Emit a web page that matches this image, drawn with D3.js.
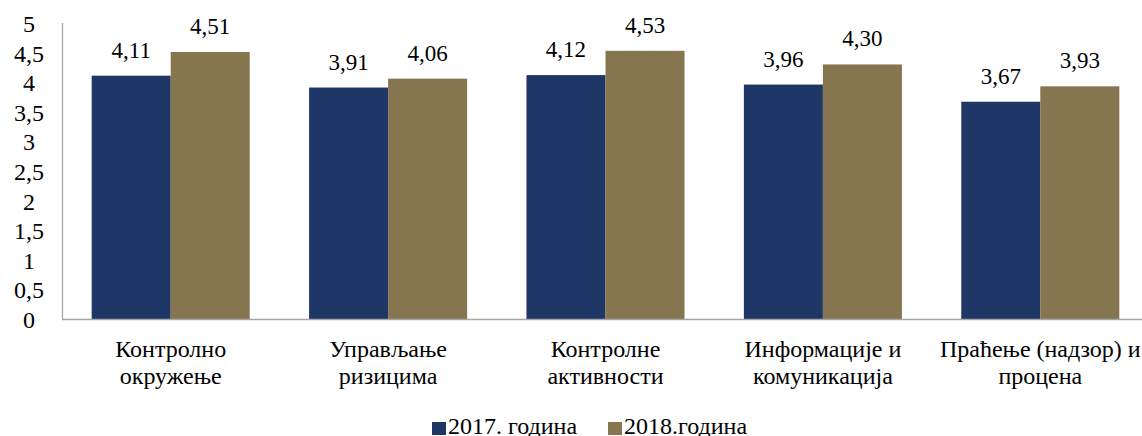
<!DOCTYPE html>
<html lang="sr">
<head>
<meta charset="utf-8">
<title>Chart</title>
<script src="https://d3js.org/d3.v7.min.js"></script>
<style>
  body { margin: 0; background: #fff; }
</style>
</head>
<body>
<script>
// categories (two lines each) and series
var categories = [
  ["Контролно", "окружење"],
  ["Управљање", "ризицима"],
  ["Контролне", "активности"],
  ["Информације и", "комуникација"],
  ["Праћење (надзор) и", "процена"]
];
var seriesNames = ["2017. година", "2018.година"];
var values2017 = [4.11, 3.91, 4.12, 3.96, 3.67];
var values2018 = [4.51, 4.06, 4.53, 4.30, 3.93];
var yTicks = [0, 0.5, 1, 1.5, 2, 2.5, 3, 3.5, 4, 4.5, 5];
var colors = ["#1f3766", "#857650"];
var FONT = "Liberation Serif";

var W = 1142, H = 436;
var svg = d3.select("body").append("svg").attr("width", W).attr("height", H);

function label(sel, size) {
  return sel.style("font-family", FONT).style("font-size", (size || 24) + "px").style("fill", "#000");
}

var x0 = d3.scaleBand().domain(d3.range(categories.length))
  .range([62, 1149]).paddingInner(0.273).paddingOuter(0.1365);
var x1 = d3.scaleBand().domain([0, 1]).range([0, x0.bandwidth()]);
var y = d3.scaleLinear().domain([0, 5]).range([319, 23]);

var fmt = function (v) { return v.toFixed(2).replace(".", ","); };
var tickFmt = function (v) { return String(v).replace(".", ","); };

// bars
var series = [values2017, values2018];
series.forEach(function (vals, s) {
  svg.append("g").selectAll("rect").data(vals).enter().append("rect")
    .attr("x", function (d, i) { return x0(i) + x1(s); })
    .attr("y", function (d) { return y(d); })
    .attr("width", x1.bandwidth())
    .attr("height", function (d) { return y(0) - y(d); })
    .attr("fill", colors[s]);
  svg.append("g").selectAll("text").data(vals).enter().append("text")
    .attr("x", function (d, i) { return x0(i) + x1(s) + x1.bandwidth() / 2; })
    .attr("y", function (d) { return y(d) - 18; })
    .attr("text-anchor", "middle")
    .call(label, 23)
    .text(fmt);
});

// axes lines
svg.append("line").attr("x1", 62.5).attr("x2", 62.5).attr("y1", y(5)).attr("y2", y(0) + 0.5)
  .attr("stroke", "#a6a6a6").attr("stroke-width", 1.3);
svg.append("line").attr("x1", 62).attr("x2", W).attr("y1", y(0) + 0.5).attr("y2", y(0) + 0.5)
  .attr("stroke", "#a6a6a6").attr("stroke-width", 1.3);

// y tick labels
svg.append("g").selectAll("text").data(yTicks).enter().append("text")
  .attr("x", 29)
  .attr("y", function (d) { return y(d) + 9; })
  .attr("text-anchor", "middle")
  .call(label, 24)
  .text(tickFmt);

// category labels
var cat = svg.append("g").selectAll("text").data(categories).enter().append("text")
  .attr("text-anchor", "middle")
  .call(label, 24);
cat.each(function (d, i) {
  var t = d3.select(this);
  d.forEach(function (line, k) {
    t.append("tspan")
      .attr("x", x0(i) + x0.bandwidth() / 2)
      .attr("y", 357 + k * 27)
      .text(line);
  });
});

// legend
var legX = [432, 608];
seriesNames.forEach(function (name, s) {
  svg.append("rect").attr("x", legX[s]).attr("y", 422).attr("width", 14).attr("height", 13)
    .attr("fill", colors[s]);
  svg.append("text").attr("x", legX[s] + 16).attr("y", 434)
    .call(label, 24).text(name);
});
</script>
</body>
</html>
